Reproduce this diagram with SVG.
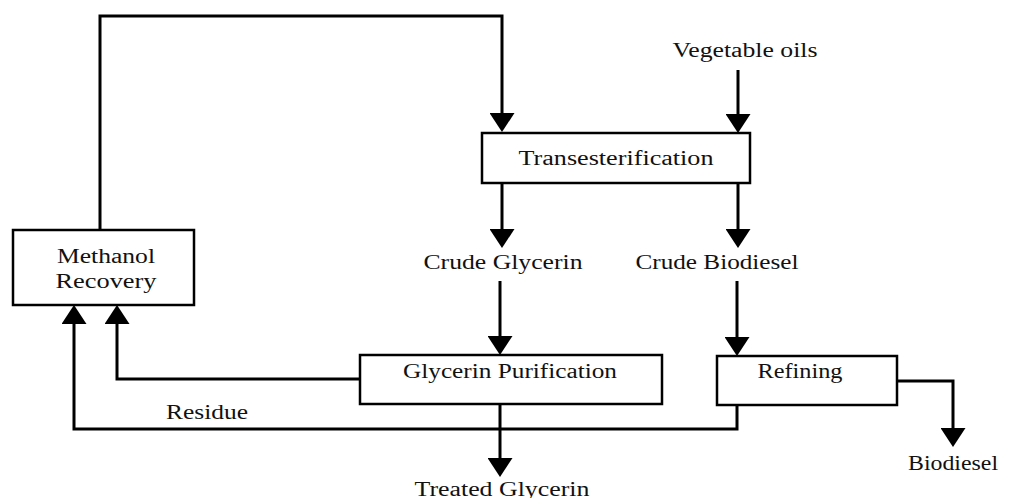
<svg xmlns="http://www.w3.org/2000/svg" width="1015" height="498" viewBox="0 0 1015 498">
  <style>
    .box { fill: #fff; stroke: #000; stroke-width: 2.5; }
    .lbl { font-family: "Liberation Serif", "Times New Roman", serif; font-size: 20px; fill: #111; text-anchor: middle; }
    .flow { fill: none; stroke: #000; stroke-width: 3; marker-end: url(#arrow); }
  </style>
  <defs>
    <marker id="arrow" markerUnits="userSpaceOnUse" markerWidth="19" markerHeight="25" refX="2" refY="12.5" orient="auto">
      <path d="M0,0 L19,12.5 L0,25 Z" fill="#000"/>
    </marker>
  </defs>
  <rect width="1015" height="498" fill="#fff"/>

  <!-- connectors -->
  <g id="connectors">
    <path class="flow" d="M100,230 V16 H502 V115"/>
    <path class="flow" d="M738,70 V116"/>
    <path class="flow" d="M502,183 V231"/>
    <path class="flow" d="M738,183 V231"/>
    <path class="flow" d="M500,281 V338"/>
    <path class="flow" d="M737,281 V339"/>
    <path class="flow" d="M360,379 H117 V322"/>
    <path class="flow" d="M737,405 V429 H74 V322"/>
    <path class="flow" d="M500,404 V460"/>
    <path class="flow" d="M897,381 H953 V430"/>
  </g>

  <!-- process boxes -->
  <g id="transesterification">
    <rect class="box" x="482" y="133" width="268" height="50"/>
    <text class="lbl" x="616" y="165" textLength="195" lengthAdjust="spacingAndGlyphs">Transesterification</text>
  </g>
  <g id="methanol-recovery">
    <rect class="box" x="13" y="230" width="181" height="75"/>
    <text class="lbl" x="106" y="263" textLength="98" lengthAdjust="spacingAndGlyphs">Methanol</text>
    <text class="lbl" x="106" y="288" textLength="101" lengthAdjust="spacingAndGlyphs">Recovery</text>
  </g>
  <g id="glycerin-purification">
    <rect class="box" x="360" y="355" width="302" height="49"/>
    <text class="lbl" x="510" y="378" textLength="214" lengthAdjust="spacingAndGlyphs">Glycerin Purification</text>
  </g>
  <g id="refining">
    <rect class="box" x="717" y="356" width="180" height="49"/>
    <text class="lbl" x="800" y="378" textLength="85" lengthAdjust="spacingAndGlyphs">Refining</text>
  </g>

  <!-- stream labels -->
  <g id="vegetable-oils">
    <text class="lbl" x="745" y="57" textLength="145" lengthAdjust="spacingAndGlyphs">Vegetable oils</text>
  </g>
  <g id="crude-glycerin">
    <text class="lbl" x="503" y="269" textLength="159" lengthAdjust="spacingAndGlyphs">Crude Glycerin</text>
  </g>
  <g id="crude-biodiesel">
    <text class="lbl" x="717" y="269" textLength="163" lengthAdjust="spacingAndGlyphs">Crude Biodiesel</text>
  </g>
  <g id="residue">
    <text class="lbl" x="207" y="419" textLength="82" lengthAdjust="spacingAndGlyphs">Residue</text>
  </g>
  <g id="treated-glycerin">
    <text class="lbl" x="502" y="496" textLength="175" lengthAdjust="spacingAndGlyphs">Treated Glycerin</text>
  </g>
  <g id="biodiesel">
    <text class="lbl" x="953" y="470" textLength="90" lengthAdjust="spacingAndGlyphs">Biodiesel</text>
  </g>
</svg>
